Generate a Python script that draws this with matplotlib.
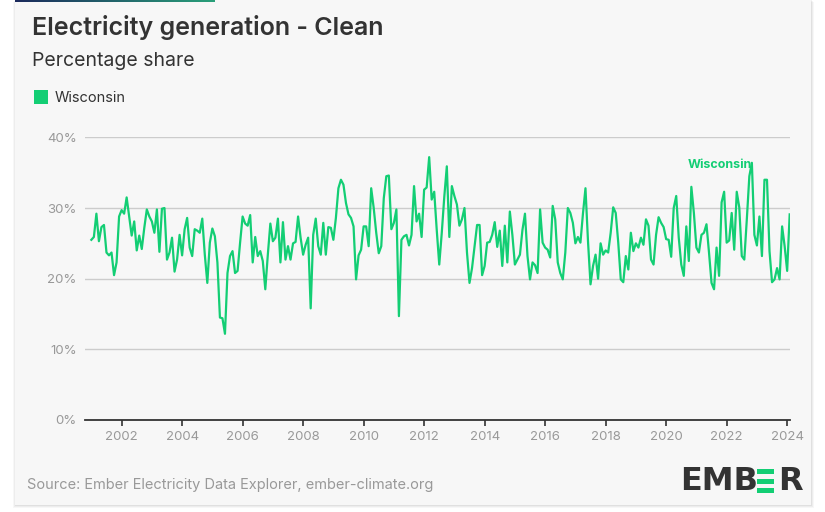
import numpy as np
import matplotlib.pyplot as plt
from matplotlib.patches import Rectangle

# monthly clean share (%) for Wisconsin, Jan 2001 - Feb 2024
share_2001_2004 = [25.5, 25.9, 29.2, 25.3, 27.3, 27.6, 23.7, 23.3, 23.7, 20.5, 22.3, 28.8,
                   29.7, 29.2, 31.5, 28.8, 26.1, 28.1, 24.0, 26.1, 24.2, 27.2, 29.8, 28.8,
                   28.1, 26.5, 29.8, 23.8, 29.9, 30.0, 22.7, 23.7, 25.8, 21.0, 22.7, 26.2,
                   23.3, 27.0, 28.6, 24.4, 23.2, 27.0, 26.8, 26.5, 28.5, 23.4, 19.4, 25.1]
share_2005_2008 = [27.1, 26.0, 22.3, 14.5, 14.4, 12.2, 20.8, 23.2, 23.9, 20.8, 21.1, 25.1,
                   28.8, 27.8, 27.5, 29.0, 22.3, 25.9, 23.2, 23.9, 22.5, 18.5, 23.4, 27.8,
                   25.3, 25.8, 28.5, 22.3, 28.0, 22.7, 24.6, 22.7, 25.0, 25.2, 28.8, 25.8,
                   23.4, 24.8, 25.8, 15.8, 26.2, 28.5, 24.6, 23.4, 27.9, 23.4, 27.3, 27.2]
share_2009_2012 = [25.5, 28.6, 32.8, 34.0, 33.3, 30.7, 29.1, 28.6, 27.4, 19.9, 23.3, 24.1,
                   27.4, 27.4, 24.6, 32.8, 30.0, 26.5, 23.6, 24.6, 31.4, 34.5, 34.6, 27.0,
                   27.9, 29.8, 14.7, 25.5, 26.0, 26.2, 24.7, 26.2, 33.1, 28.1, 29.2, 25.9,
                   32.6, 32.9, 37.2, 31.2, 32.3, 26.9, 22.0, 26.5, 31.6, 35.9, 25.9, 33.1]
share_2013_2016 = [31.7, 30.5, 27.5, 28.4, 30.0, 23.7, 19.4, 21.5, 24.6, 27.6, 27.6, 20.5,
                   21.8, 25.1, 25.2, 26.2, 28.0, 24.5, 26.8, 21.8, 27.5, 22.3, 29.5, 26.2,
                   22.0, 22.7, 23.4, 26.9, 29.2, 23.2, 19.9, 22.3, 21.9, 20.8, 29.8, 25.1,
                   24.4, 24.1, 23.0, 30.3, 28.4, 22.3, 20.8, 19.9, 23.7, 30.0, 29.3, 27.9]
share_2017_2020 = [25.0, 25.9, 25.1, 29.2, 32.8, 25.3, 19.2, 21.8, 23.4, 20.0, 25.0, 23.4,
                   24.0, 23.7, 26.5, 30.1, 29.3, 25.1, 19.9, 19.5, 23.2, 21.3, 26.5, 23.9,
                   25.0, 24.4, 25.8, 24.8, 28.4, 27.5, 22.7, 22.0, 26.2, 28.7, 27.9, 27.3,
                   25.6, 25.5, 23.1, 30.0, 31.7, 25.8, 22.0, 20.4, 27.4, 22.5, 33.0, 29.3]
share_2021_2024 = [24.4, 23.7, 26.2, 26.5, 27.7, 23.7, 19.4, 18.5, 24.4, 20.4, 30.8, 32.3,
                   25.1, 25.4, 29.3, 24.1, 32.3, 30.1, 23.2, 22.7, 28.4, 34.5, 36.4, 26.2,
                   24.7, 28.8, 23.2, 34.0, 34.0, 23.9, 19.5, 19.9, 21.5, 19.9, 27.4, 24.6,
                   21.1, 29.1]

year_ticks = [2002, 2004, 2006, 2008, 2010, 2012, 2014, 2016, 2018, 2020, 2022, 2024]
pct_ticks = [0, 10, 20, 30, 40]
series_name = "Wisconsin"

share = (share_2001_2004 + share_2005_2008 + share_2009_2012 +
         share_2013_2016 + share_2017_2020 + share_2021_2024)
t = 2001 + np.arange(len(share)) / 12

GREEN = "#13ce74"
DARK = "#333333"
GREY = "#999999"
plt.rcParams['font.family'] = ['Inter', 'DejaVu Sans']

W, H = 825, 512
fig = plt.figure(figsize=(W / 100, H / 100), dpi=100, facecolor="white")

def fx(px):
    return px / W

def fy(py):
    return 1 - py / H

# card with soft shadow (kept behind the axes)
for i, a in enumerate([0.05, 0.04, 0.03]):
    fig.patches.append(Rectangle((fx(15 - i), fy(506 + i)), fx(797 + 2 * i), 506 / H,
                                 transform=fig.transFigure, facecolor="black",
                                 alpha=a, edgecolor="none", zorder=-5))
fig.patches.append(Rectangle((fx(15), fy(505)), fx(796), 505 / H,
                             transform=fig.transFigure, facecolor="#f7f7f7",
                             edgecolor="none", zorder=-4))

# top gradient strip
grad = fig.add_axes([fx(15), fy(2), fx(200), 2 / H])
grad.imshow(np.linspace(0, 1, 200)[None, :], aspect="auto",
            cmap=plt.matplotlib.colors.LinearSegmentedColormap.from_list("g", ["#1b2a5c", "#2aa07a"]))
grad.axis("off")

fig.text(fx(32), fy(27), "Electricity generation - Clean", fontsize=18,
         fontweight="semibold", color=DARK, va="center", ha="left")
fig.text(fx(32), fy(61), "Percentage share", fontsize=14, color=DARK,
         va="center", ha="left")
fig.patches.append(Rectangle((fx(34), fy(104)), fx(14), 14 / H,
                             transform=fig.transFigure, facecolor=GREEN,
                             edgecolor="none", zorder=3))
fig.text(fx(55), fy(97.5), series_name, fontsize=10.5, color=DARK,
         va="center", ha="left")

ax = fig.add_axes([fx(85), fy(420), fx(705), 283 / H])
ax.set_facecolor("none")
ax.plot(t, share, color=GREEN, lw=1.6, solid_joinstyle="round", zorder=3)
ax.set_xlim(2000.79, 2024.094)
ax.set_ylim(0, 40.05)
ax.set_yticks(pct_ticks)
ax.set_yticklabels([f"{v}%" for v in pct_ticks])
ax.set_xticks(year_ticks)
ax.set_xticklabels([str(y) for y in year_ticks])
ax.grid(axis="y", color="#cccccc", lw=1)
ax.grid(axis="x", visible=False)
for s in ["top", "right", "left"]:
    ax.spines[s].set_visible(False)
ax.spines["bottom"].set_color(DARK)
ax.spines["bottom"].set_linewidth(1.3)
ax.tick_params(axis="y", length=0, pad=6, labelsize=9.5, labelcolor=GREY)
ax.tick_params(axis="x", length=4, width=1.2, color=DARK, pad=4,
               labelsize=9.5, labelcolor=GREY)
ax.text(2022.84, 36.1, series_name, color=GREEN, fontsize=9, fontweight="bold",
        ha="right", va="center")

fig.text(fx(27), fy(485), "Source: Ember Electricity Data Explorer, ember-climate.org",
         fontsize=10.5, color=GREY, va="center", ha="left")

# EMBER logo
fig.text(fx(680), fy(481), "EMB", fontsize=23, fontweight="bold", color=DARK,
         va="center", ha="left", family="DejaVu Sans")
for top in [469, 478.5, 488]:
    fig.patches.append(Rectangle((fx(757), fy(top + 5)), fx(16.5), 5 / H,
                                 transform=fig.transFigure, facecolor=GREEN,
                                 edgecolor="none", zorder=3))
fig.text(fx(778), fy(481), "R", fontsize=23, fontweight="bold", color=DARK,
         va="center", ha="left", family="DejaVu Sans")

fig.savefig("out.png", dpi=100, facecolor="white")
